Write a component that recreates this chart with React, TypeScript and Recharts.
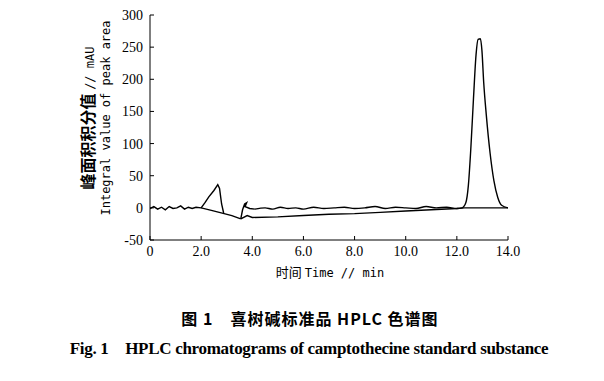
import { LineChart, Line, XAxis, YAxis } from 'recharts'

// retention time (min) / signal (mAU) pairs
const baselineLeftT = [0, 0.15, 0.3, 0.45, 0.6, 0.75, 0.9, 1.05, 1.2, 1.35, 1.5, 1.65, 1.8, 2.0, 2.4, 2.9, 3.2, 3.55]
const baselineLeftV = [-1, 2, -2, 1, -3, 2, -1, 0, 3, -2, 1, -1, 1, 0, -4, -9, -12, -17]

const peakAT = [2.0, 2.15, 2.3, 2.5, 2.65, 2.72, 2.8, 2.88]
const peakAV = [0, 8, 17, 27, 36, 30, 6, -8]

const peakBT = [3.55, 3.62, 3.7, 3.78, 3.72, 3.9, 4.1]
const peakBV = [-17, -3, 6, 8, 2, -1, -2]

const traceT = [4.1, 4.5, 4.8, 5.1, 5.4, 5.7, 6.0, 6.4, 6.8, 7.2, 7.6, 8.0, 8.4, 8.8, 9.2, 9.6, 10.0, 10.4, 10.8, 11.2, 11.6, 12.0, 12.2, 12.35, 12.45, 12.55, 12.65, 12.75, 12.83, 12.92, 12.98, 13.05, 13.15, 13.3, 13.45, 13.6, 13.75, 14.0]
const traceV = [-2, 0, -2, 1, -1, 0, -2, 1, -1, 0, 1, -1, 0, 2, -1, 1, 0, -1, 2, 0, 1, -1, 0, 8, 35, 95, 170, 238, 262, 263, 245, 195, 145, 85, 42, 16, 4, 0]

const lowerT = [3.55, 3.8, 4.0, 5.0, 6.0, 7.0, 8.0, 9.0, 10.0, 11.0, 12.0, 12.3, 14.0]
const lowerV = [-17, -12, -15, -14, -12, -10, -9, -7, -5, -3, -1, 0, 0]

const xTicks = [0, 2, 4, 6, 8, 10, 12, 14]
const yTicks = [-50, 0, 50, 100, 150, 200, 250, 300]

const toPoints = (t: number[], v: number[]) => t.map((x, i) => ({ t: x, v: v[i] }))

const series = [
  { d: toPoints(baselineLeftT, baselineLeftV), curve: 'linear' },
  { d: toPoints(peakAT, peakAV), curve: 'linear' },
  { d: toPoints(peakBT, peakBV), curve: 'linear' },
  { d: toPoints(traceT, traceV), curve: 'monotone' },
  { d: toPoints(lowerT, lowerV), curve: 'linear' },
] as const

const tickStyle = { fill: '#000', fontSize: 14, fontFamily: '"Liberation Serif", serif' }

export default function App() {
  return (
    <div style={{ position: 'absolute', left: 0, top: 0, width: 604, height: 381, background: '#fff' }}>
      <LineChart
        width={604}
        height={290}
        margin={{ top: 15, right: 96, bottom: 20, left: 110 }}
      >
        <XAxis
          dataKey="t"
          type="number"
          domain={[0, 14]}
          ticks={xTicks}
          tickFormatter={(v: number) => (v === 0 ? '0' : v.toFixed(1))}
          tick={tickStyle}
          stroke="#000"
          tickSize={-4}
          tickMargin={10}
          height={30}
          allowDataOverflow
        />
        <YAxis
          type="number"
          domain={[-50, 300]}
          ticks={yTicks}
          tick={tickStyle}
          stroke="#000"
          tickSize={-4}
          tickMargin={11}
          width={40}
          allowDataOverflow
        />
        {series.map((s, i) => (
          <Line
            key={i}
            data={s.d as any}
            dataKey="v"
            type={s.curve}
            stroke="#000"
            strokeWidth={1.4}
            dot={false}
            isAnimationActive={false}
          />
        ))}
      </LineChart>
      <div
        style={{
          position: 'absolute',
          left: 96,
          top: 118,
          transform: 'translate(-50%, -50%) rotate(-90deg)',
          whiteSpace: 'nowrap',
          textAlign: 'center',
          lineHeight: '16px',
          color: '#000',
        }}
      >
        <div style={{ fontFamily: '"Noto Sans CJK SC", sans-serif', fontWeight: 700, fontSize: 16 }}>
          峰面积积分值 <span style={{ fontFamily: '"DejaVu Sans Mono", monospace', fontWeight: 400, fontSize: 12 }}>// mAU</span>
        </div>
        <div style={{ fontFamily: '"DejaVu Sans Mono", monospace', fontSize: 12 }}>Integral value of peak area</div>
      </div>
      <div
        style={{
          position: 'absolute',
          left: 0,
          width: 660,
          top: 262,
          textAlign: 'center',
          fontSize: 13,
          color: '#000',
          whiteSpace: 'nowrap',
        }}
      >
        <span style={{ fontFamily: '"Noto Sans CJK SC", sans-serif' }}>时间 </span>
        <span style={{ fontFamily: '"DejaVu Sans Mono", monospace', fontSize: 12 }}>Time // min</span>
      </div>
      <div
        style={{
          position: 'absolute',
          left: 0,
          width: 620,
          top: 306,
          textAlign: 'center',
          fontFamily: '"Noto Sans CJK SC", sans-serif',
          fontWeight: 700,
          fontSize: 16,
          letterSpacing: 1,
          color: '#000',
          whiteSpace: 'nowrap',
        }}
      >
        图 1　喜树碱标准品 HPLC 色谱图
      </div>
      <div
        style={{
          position: 'absolute',
          left: 0,
          width: 618,
          top: 337,
          textAlign: 'center',
          fontFamily: '"Liberation Serif", serif',
          fontWeight: 700,
          fontSize: 17,
          letterSpacing: -0.3,
          color: '#000',
          whiteSpace: 'nowrap',
        }}
      >
        Fig. 1　HPLC chromatograms of camptothecine standard substance
      </div>
    </div>
  )
}
